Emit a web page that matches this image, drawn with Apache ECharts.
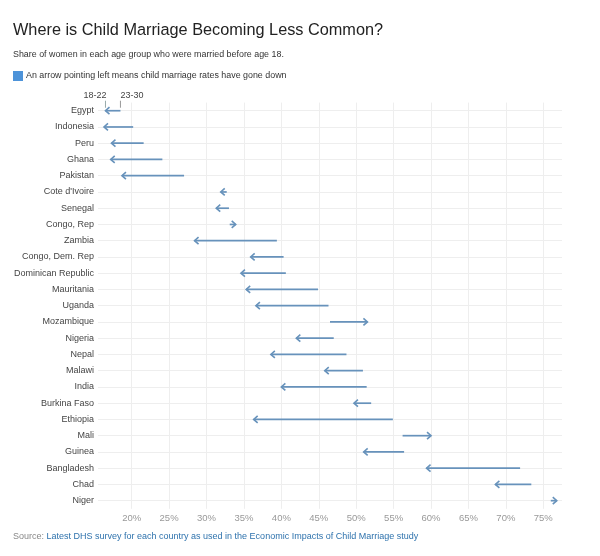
<!DOCTYPE html>
<html><head><meta charset="utf-8">
<script src="https://cdn.jsdelivr.net/npm/echarts@6/dist/echarts.min.js"></script>
<style>html,body{margin:0;padding:0;background:#fff}#c{width:600px;height:556px}</style>
</head><body><div id="c"></div>
<script>
const countries = ["Egypt","Indonesia","Peru","Ghana","Pakistan","Cote d'Ivoire","Senegal","Congo, Rep","Zambia","Congo, Dem. Rep","Dominican Republic","Mauritania","Uganda","Mozambique","Nigeria","Nepal","Malawi","India","Burkina Faso","Ethiopia","Mali","Guinea","Bangladesh","Chad","Niger"];
// share married before 18, women aged 18-22 (arrow head)
const age18_22 = [16.5,16.3,17.3,17.2,18.7,31.9,31.3,33.9,28.4,35.9,34.6,35.3,36.6,51.5,42.0,38.6,45.8,40.0,49.7,36.3,60.0,51.0,59.4,68.6,76.8];
// share married before 18, women aged 23-30 (arrow tail)
const age23_30 = [18.5,20.2,21.6,24.1,27.0,32.7,33.0,33.1,39.4,40.3,40.6,44.9,46.3,46.5,47.0,48.7,50.9,51.4,52.0,54.9,56.2,56.4,71.9,73.4,76.0];
const xTicks = [20,25,30,35,40,45,50,55,60,65,70,75];
const groupLabels = ["18-22","23-30"];
const titleText = "Where is Child Marriage Becoming Less Common?";
const subText = "Share of women in each age group who were married before age 18.";
const legendText = "An arrow pointing left means child marriage rates have gone down";

const FONT = "Liberation Sans, Arial, sans-serif";
const ARROW = "#6792bb";
const chart = echarts.init(document.getElementById('c'), null, {renderer:'canvas'});
const data = countries.map((c,i)=>[i, age18_22[i], age23_30[i]]);

chart.setOption({
  animation:false,
  textStyle:{fontFamily:FONT},
  title:[
    {text:titleText, left:8, top:18, textStyle:{fontSize:16.3, fontWeight:'normal', color:'#222', fontFamily:FONT}},
    {text:subText, left:8, top:45, textStyle:{fontSize:8.9, fontWeight:'normal', color:'#333', fontFamily:FONT}}
  ],
  legend:{left:8, top:66, itemWidth:10, itemHeight:10, icon:'rect', selectedMode:false,
    textStyle:{fontSize:8.9, color:'#333', fontFamily:FONT, padding:[0,0,0,-2]}, data:[legendText]},
  grid:{left:98, right:38, top:102.6, bottom:47.2},
  xAxis:{type:'value', min:15.5, max:77.5,
    axisLine:{show:false}, axisTick:{show:false, customValues:xTicks},
    axisLabel:{customValues:xTicks, formatter:'{value}%', color:'#999', fontSize:9.5, margin:5, fontFamily:FONT},
    splitLine:{show:true, lineStyle:{color:'#eeeeee', width:1}}},
  yAxis:{type:'category', inverse:true, data:countries,
    axisLine:{show:false},
    axisTick:{show:true, alignWithLabel:true, inside:true, length:464, lineStyle:{color:'#eeeeee'}},
    axisLabel:{color:'#444', fontSize:9, margin:4, fontFamily:FONT},
    splitLine:{show:false}},
  graphic:[{type:'text', left:13, top:532, style:{
    text:'{a|Source: }{b|Latest DHS survey for each country as used in the Economic Impacts of Child Marriage study}',
    rich:{a:{fill:'#888', fontSize:9, fontFamily:FONT}, b:{fill:'#2f73ad', fontSize:9, fontFamily:FONT}}}}],
  series:[{
    type:'custom', name:legendText, data:data, encode:{y:0, x:[1,2]},
    itemStyle:{color:'#4d93d9'},
    renderItem:function(params, api){
      const i = api.value(0);
      const h = api.coord([api.value(1), i]);
      const t = api.coord([api.value(2), i]);
      const y = h[1];
      const dir = h[0] < t[0] ? -1 : 1;
      const children = [
        {type:'line', shape:{x1:t[0], y1:y, x2:h[0], y2:y}, style:{stroke:ARROW, lineWidth:1.7}},
        {type:'polyline', shape:{points:[[h[0]-dir*4, y-3.5],[h[0], y],[h[0]-dir*4, y+3.5]]}, style:{stroke:ARROW, lineWidth:1.6, fill:null}}
      ];
      if (params.dataIndex === 0) {
        children.push(
          {type:'line', shape:{x1:h[0], y1:y-10, x2:h[0], y2:y-3}, style:{stroke:'#9aa', lineWidth:1}},
          {type:'line', shape:{x1:t[0], y1:y-10, x2:t[0], y2:y-3}, style:{stroke:'#999', lineWidth:1}},
          {type:'text', style:{text:groupLabels[0], x:h[0]+1, y:y-15, align:'right', verticalAlign:'middle', fill:'#444', fontSize:9, fontFamily:FONT}},
          {type:'text', style:{text:groupLabels[1], x:t[0], y:y-15, align:'left', verticalAlign:'middle', fill:'#444', fontSize:9, fontFamily:FONT}}
        );
      }
      return {type:'group', children:children};
    }
  }]
});
</script></body></html>
